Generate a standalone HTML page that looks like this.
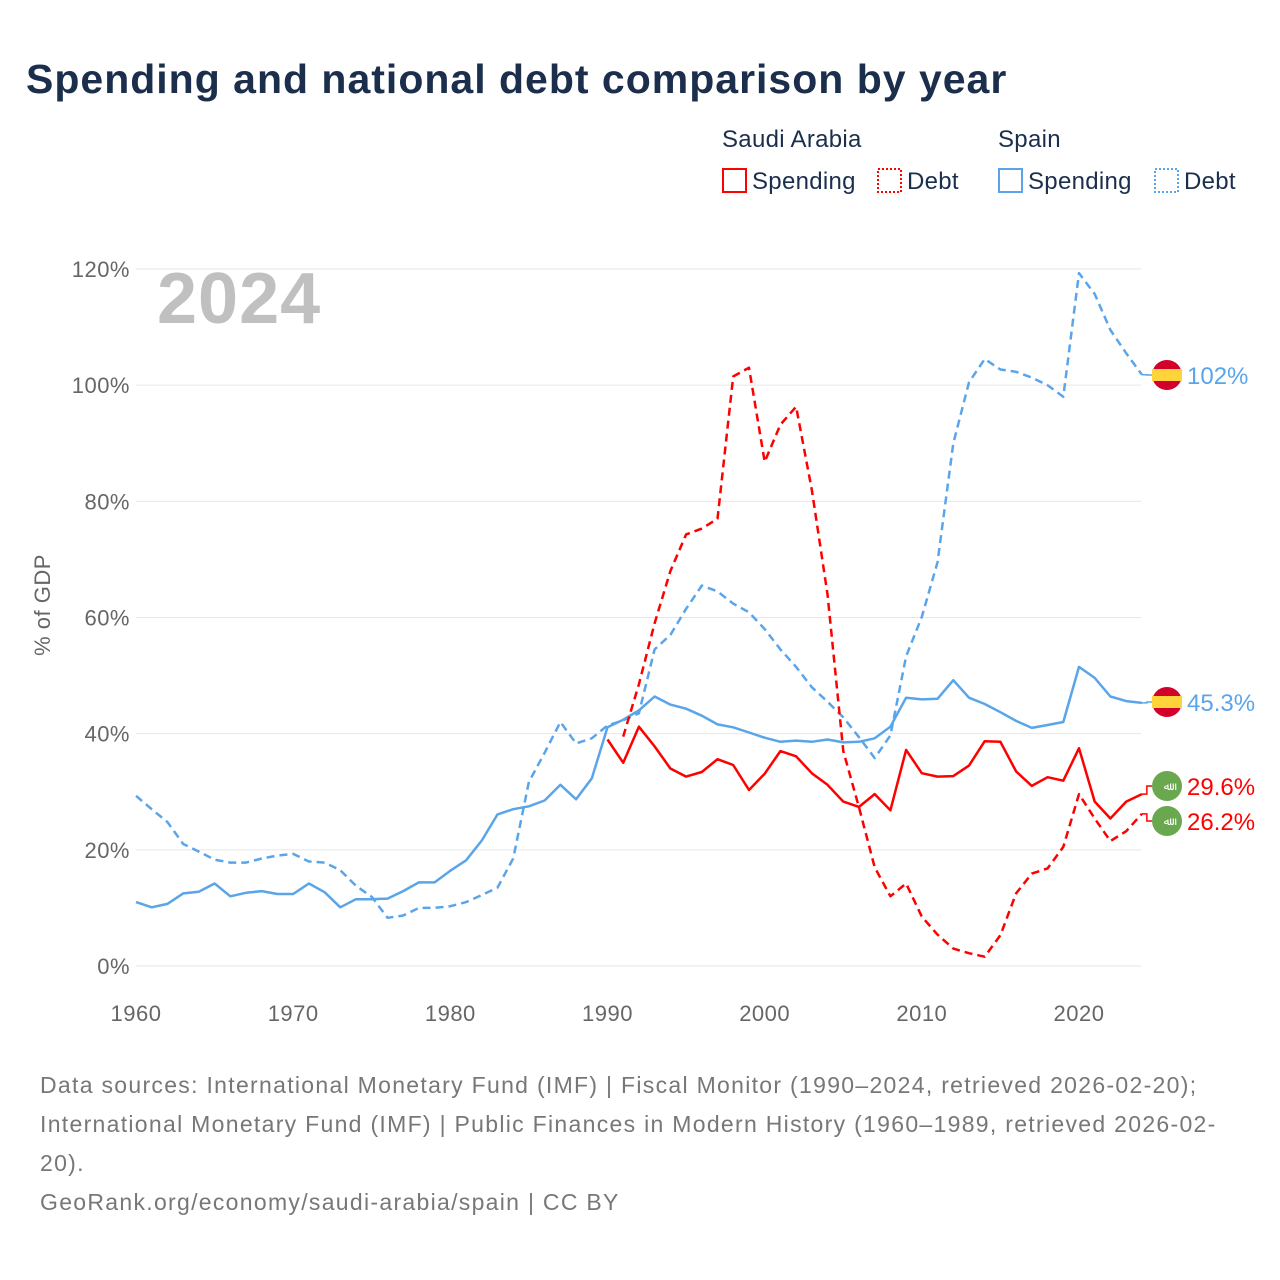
<!DOCTYPE html>
<html><head><meta charset="utf-8">
<style>
body{margin:0;background:#fff;font-family:"Liberation Sans",sans-serif;}
#wrap{position:relative;width:1280px;height:1280px;overflow:hidden;}
</style></head><body>
<div id="wrap">
<svg id="chart" width="1280" height="1280" xmlns="http://www.w3.org/2000/svg">
<text x="26" y="93" font-size="41" font-weight="bold" fill="#1b2f4d" letter-spacing="1">Spending and national debt comparison by year</text>
<g font-size="24" fill="#1b2f4d" letter-spacing="0.3">
<text x="722" y="147">Saudi Arabia</text>
<text x="998" y="147">Spain</text>
<g><rect x="723" y="169" width="23" height="23" fill="none" stroke="#ff0000" stroke-width="2"/><text x="752" y="189">Spending</text></g>
<g><rect x="878" y="169" width="23" height="23" fill="none" stroke="#ff0000" stroke-width="2" stroke-dasharray="2,2"/><text x="907" y="189">Debt</text></g>
<g><rect x="999" y="169" width="23" height="23" fill="none" stroke="#5aa5ea" stroke-width="2"/><text x="1028" y="189">Spending</text></g>
<g><rect x="1155" y="169" width="23" height="23" fill="none" stroke="#5aa5ea" stroke-width="2" stroke-dasharray="2,2"/><text x="1184" y="189">Debt</text></g>
</g>
<text x="157" y="323" font-size="72" font-weight="bold" fill="#c0c0c0" letter-spacing="1">2024</text>
<text transform="translate(50,605) rotate(-90)" text-anchor="middle" font-size="22" fill="#666" letter-spacing="0.5">% of GDP</text>
<g id="grid"></g><g id="series"></g><g id="ends"></g>
<g font-size="23" fill="#777" letter-spacing="1.3">
<text x="40" y="1093">Data sources: International Monetary Fund (IMF) | Fiscal Monitor (1990–2024, retrieved 2026-02-20);</text>
<text x="40" y="1132">International Monetary Fund (IMF) | Public Finances in Modern History (1960–1989, retrieved 2026-02-</text>
<text x="40" y="1171">20).</text>
<text x="40" y="1210">GeoRank.org/economy/saudi-arabia/spain | CC BY</text>
</g>
</svg>
</div>
<script>
const yTicks=[0,20,40,60,80,100,120];
const xTicks=[1960,1970,1980,1990,2000,2010,2020];
const spainSpending=[11.0,10.1,10.7,12.5,12.8,14.2,12.0,12.6,12.9,12.4,12.4,14.2,12.7,10.1,11.5,11.5,11.6,12.9,14.4,14.4,16.4,18.2,21.6,26.1,27.0,27.5,28.5,31.2,28.7,32.3,41.1,42.4,44.0,46.4,45.0,44.3,43.1,41.6,41.1,40.2,39.3,38.6,38.8,38.6,39.0,38.5,38.6,39.2,41.2,46.2,45.9,46.0,49.2,46.2,45.1,43.7,42.2,41.0,41.5,42.0,51.5,49.6,46.4,45.6,45.3];
const spainDebt=[29.3,27.0,24.8,21.0,19.7,18.3,17.8,17.8,18.5,19.0,19.3,18.0,17.8,16.5,13.8,11.9,8.3,8.7,10.0,10.0,10.3,11.0,12.2,13.5,18.5,31.7,36.7,42.0,38.3,39.2,41.4,42.3,43.5,54.5,57.0,61.5,65.5,64.5,62.4,60.9,58.0,54.5,51.5,48.0,45.5,42.8,39.4,35.8,39.7,53.3,60.1,69.5,90.0,100.5,104.5,102.7,102.3,101.3,100.0,98.0,119.3,115.7,109.5,105.5,101.8];
const saudiSpending=[39.0,35.0,41.2,37.8,34.0,32.6,33.4,35.6,34.6,30.3,33.1,37.0,36.1,33.2,31.2,28.3,27.4,29.6,26.8,37.2,33.2,32.6,32.7,34.5,38.7,38.6,33.5,31.0,32.5,31.9,37.5,28.3,25.4,28.3,29.6];
const saudiDebt=[39.5,48.5,59,68,74.3,75.3,77.0,101.5,103.0,86.8,93.2,96.3,82,64,37,27.3,17.0,12.0,14.2,8.5,5.4,3.0,2.2,1.6,5.3,12.5,15.9,16.8,20.5,29.6,25.4,21.5,23.2,26.2];
const spainStart=1960, saudiSpendStart=1990, saudiDebtStart=1991;
const X=y=>136+(y-1960)*(943/60);
const Y=v=>966-v*(697/120);
const NS="http://www.w3.org/2000/svg";
function mk(tag,attrs,parent){const e=document.createElementNS(NS,tag);for(const k in attrs)e.setAttribute(k,attrs[k]);parent.appendChild(e);return e;}
const grid=document.getElementById('grid');
yTicks.forEach(v=>{
 const l=mk('line',{x1:136,x2:1141,y1:Y(v),y2:Y(v),stroke:'#e6e6e6','stroke-width':1},grid);
 
 
 const t=mk('text',{x:130,y:Y(v)+8,'text-anchor':'end','font-size':22,fill:'#666','letter-spacing':0.5},grid);
 t.textContent=v+'%';
 
 
});
xTicks.forEach(v=>{
 const t=mk('text',{x:X(v),y:1021,'text-anchor':'middle','font-size':22,fill:'#666','letter-spacing':0.5},grid);
 t.textContent=v;
 
 
});
const ser=document.getElementById('series');
function line(arr,start,color,dash,name){
 const pts=arr.map((v,i)=>X(start+i).toFixed(1)+','+Y(v).toFixed(1)).join(' ');
 const p=mk('polyline',{points:pts,fill:'none',stroke:color,'stroke-width':2.5,'stroke-linejoin':'round'},ser);
 if(dash)p.setAttribute('stroke-dasharray','8,5');
 
 
}
line(spainDebt,spainStart,'#5aa5ea',true,'spain-debt-line');
line(spainSpending,spainStart,'#5aa5ea',false,'spain-spending-line');
line(saudiDebt,saudiDebtStart,'#ff0000',true,'saudi-debt-line');
line(saudiSpending,saudiSpendStart,'#ff0000',false,'saudi-spending-line');
const ends=document.getElementById('ends');
function endLabel(val,labelY,color,flag,name,txt){
 const g=mk('g',{},ends);
 
 
 const x0=X(2024),y0=Y(val);
 mk('polyline',{points:`${x0},${y0} ${x0+5},${y0} ${x0+5},${labelY} ${1152},${labelY}`,fill:'none',stroke:color,'stroke-width':1.5},g);
 if(flag==='es'){
  mk('circle',{cx:1167,cy:labelY,r:15,fill:'#d2002a'},g);
  mk('rect',{x:1152,y:labelY-6,width:30,height:12,fill:'#ffd43b'},g);
 }else{
  mk('circle',{cx:1167,cy:labelY,r:15,fill:'#6aa84f'},g);
  const s=mk('text',{x:1167,y:labelY+4,'text-anchor':'middle','font-size':11,fill:'#fff'},g);s.textContent='ﷲ';
 }
 const t=mk('text',{x:1187,y:labelY+9,'font-size':24,fill:color},g);t.textContent=txt;
}
endLabel(spainDebt[spainDebt.length-1],375,'#5aa5ea','es','spain-debt-end-label','102%');
endLabel(spainSpending[spainSpending.length-1],702,'#5aa5ea','es','spain-spending-end-label','45.3%');
endLabel(saudiSpending[saudiSpending.length-1],786,'#ff0000','sa','saudi-spending-end-label','29.6%');
endLabel(saudiDebt[saudiDebt.length-1],821,'#ff0000','sa','saudi-debt-end-label','26.2%');
</script>
</body></html>
